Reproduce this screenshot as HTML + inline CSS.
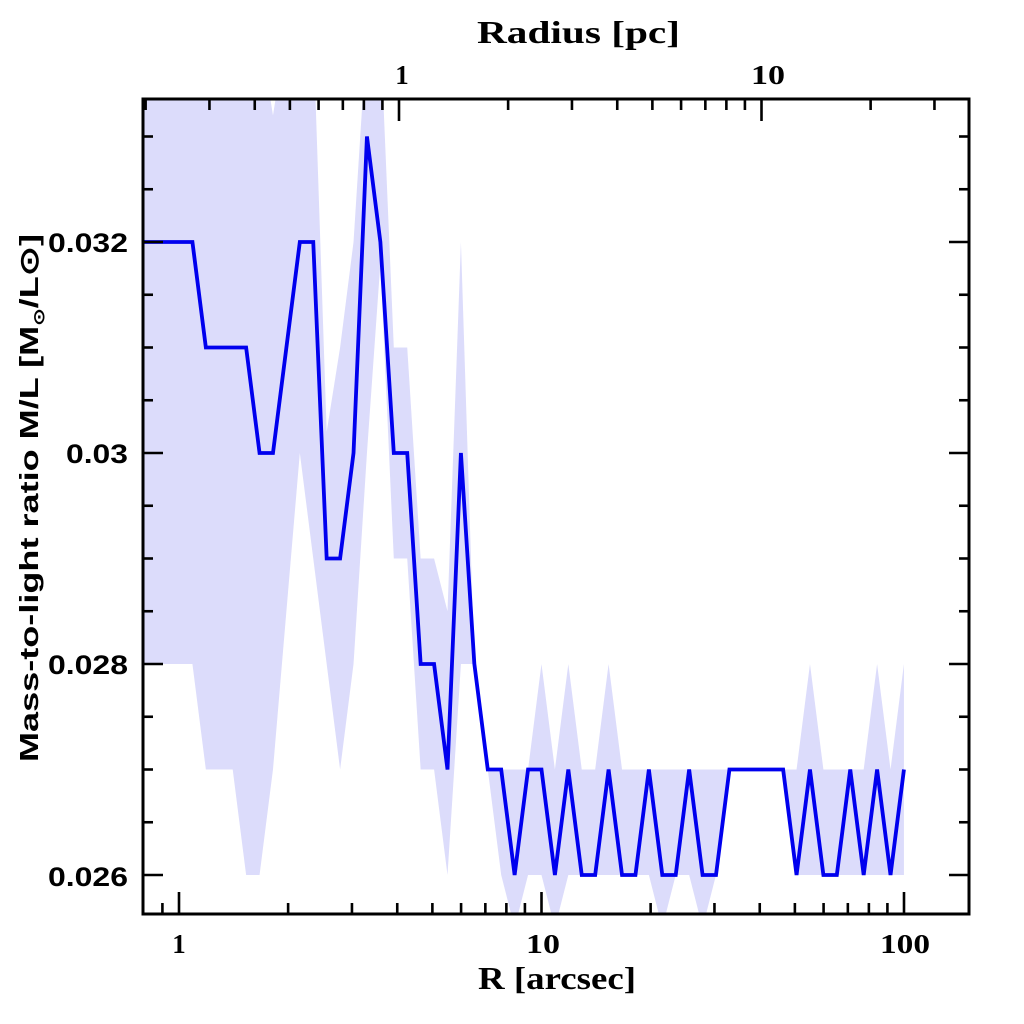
<!DOCTYPE html>
<html><head><meta charset="utf-8"><style>
html,body{margin:0;padding:0;background:#fff;}
svg{display:block;}
text{font-family:"Liberation Sans",sans-serif;font-weight:bold;fill:#000;}
.sf{font-family:"Liberation Serif",serif;}
</style></head><body>
<svg id="s" width="1024" height="1024" viewBox="0 0 1024 1024" xmlns="http://www.w3.org/2000/svg">
<defs><clipPath id="c"><rect x="143" y="99" width="826" height="815"/></clipPath></defs>
<g clip-path="url(#c)">
<polygon id="band" fill="#dcdcfb" points=""/>
<polyline id="line" fill="none" stroke="#0000ee" stroke-width="3.8" stroke-linejoin="miter" points=""/>
</g>
<g id="ticks" stroke="#000" stroke-width="2.6"></g>
<rect x="143" y="99" width="826" height="815" fill="none" stroke="#000" stroke-width="3"/>
<g font-size="27" text-anchor="middle" class="sf">
<text x="179" y="953" class="sf">1</text>
<text x="543" y="953" class="sf" textLength="34" lengthAdjust="spacingAndGlyphs">10</text>
<text x="905" y="953" class="sf" textLength="50" lengthAdjust="spacingAndGlyphs">100</text>
<text x="402" y="84" class="sf">1</text>
<text x="768" y="84" class="sf" textLength="34" lengthAdjust="spacingAndGlyphs">10</text>
</g>
<g font-size="27">
<text x="48" y="252" textLength="80" lengthAdjust="spacingAndGlyphs">0.032</text>
<text x="66" y="463" textLength="62" lengthAdjust="spacingAndGlyphs">0.03</text>
<text x="48" y="674" textLength="80" lengthAdjust="spacingAndGlyphs">0.028</text>
<text x="48" y="886" textLength="80" lengthAdjust="spacingAndGlyphs">0.026</text>
</g>
<text x="478" y="989" font-size="32" class="sf" textLength="158" lengthAdjust="spacingAndGlyphs">R [arcsec]</text>
<text x="477" y="43" font-size="32" class="sf" textLength="203" lengthAdjust="spacingAndGlyphs">Radius [pc]</text>
<text transform="translate(38,762) rotate(-90)" font-size="26" textLength="528" lengthAdjust="spacingAndGlyphs">Mass-to-light ratio M/L [M<tspan font-size="15" dy="6">⊙</tspan><tspan dy="-6">/L⊙]</tspan></text>
</svg>
<script>
var X=function(r){return 179+362.5*Math.log10(r);};
var Y=function(v){return 242+(0.032-v)*105500;};
var v=[32,32,31,31,31,31,30,30,31,32,32,29,29,30,33,32,30,30,28,28,27,30,28,27,27,26,27,27,26,27,26,26,27,26,26,27,26,26,27,26,26,27,27,27,27,27,26,27,26,26,27,26,27,26,27];
var up=[34,34,34,34,34,34,34,33.2,34,34,34,30.2,31,32,34,34,31,31,29,29,28.5,32,28,27,27,27,27,28,27,28,27,27,28,27,27,27,27,27,27,27,27,27,27,27,27,27,27,28,27,27,27,27,28,27,28];
var lo=[28,28,27,27,27,26,26,27,28.5,30,29,28,27,28,30,31.8,29,29,27,27,26,28,28,27,26,25.5,26,26,25.5,26,26,26,26,26,26,26,25.5,26,26,25.5,26,27,27,27,27,27,26,26,26,26,26,26,26,26,26];
var P=[],U=[],L=[];
for(var k=0;k<v.length;k++){var x=179+13.425*k;P.push(x+','+Y(v[k]/1000));U.push(x+','+Y(up[k]/1000));L.push(x+','+Y(lo[k]/1000));}
P.unshift('140,'+Y(0.032));U.unshift('140,'+Y(0.034));L.unshift('140,'+Y(0.028));
document.getElementById('line').setAttribute('points',P.join(' '));
document.getElementById('band').setAttribute('points',U.concat(L.reverse()).join(' '));
var g=document.getElementById('ticks'),s='';
function ln(a,b,c,d){s+='<line x1="'+a+'" y1="'+b+'" x2="'+c+'" y2="'+d+'"/>';}
for(var i=0;i<=16;i++){var val=0.0255+i*0.0005;var y=Y(val);if(y<100||y>913)continue;var maj=Math.abs(Math.round(val*1e4)%20)<1e-6;var len=maj?20:10;ln(143,y,143+len,y);ln(969,y,969-len,y);}
for(var d=0.1;d<1000;d*=10){for(var m=1;m<10;m++){var r=d*m;var x=X(r);if(x<145||x>967)continue;var len=(m==1)?22:11;ln(x,914,x,914-len);}}
var f=Math.pow(10,(399-179)/362.5);
for(var d=0.01;d<100;d*=10){for(var m=1;m<10;m++){var r=d*m;var x=X(r*f);if(x<145||x>967)continue;var len=(m==1)?22:11;ln(x,99,x,99+len);}}
g.innerHTML=s;
</script>
</body></html>
